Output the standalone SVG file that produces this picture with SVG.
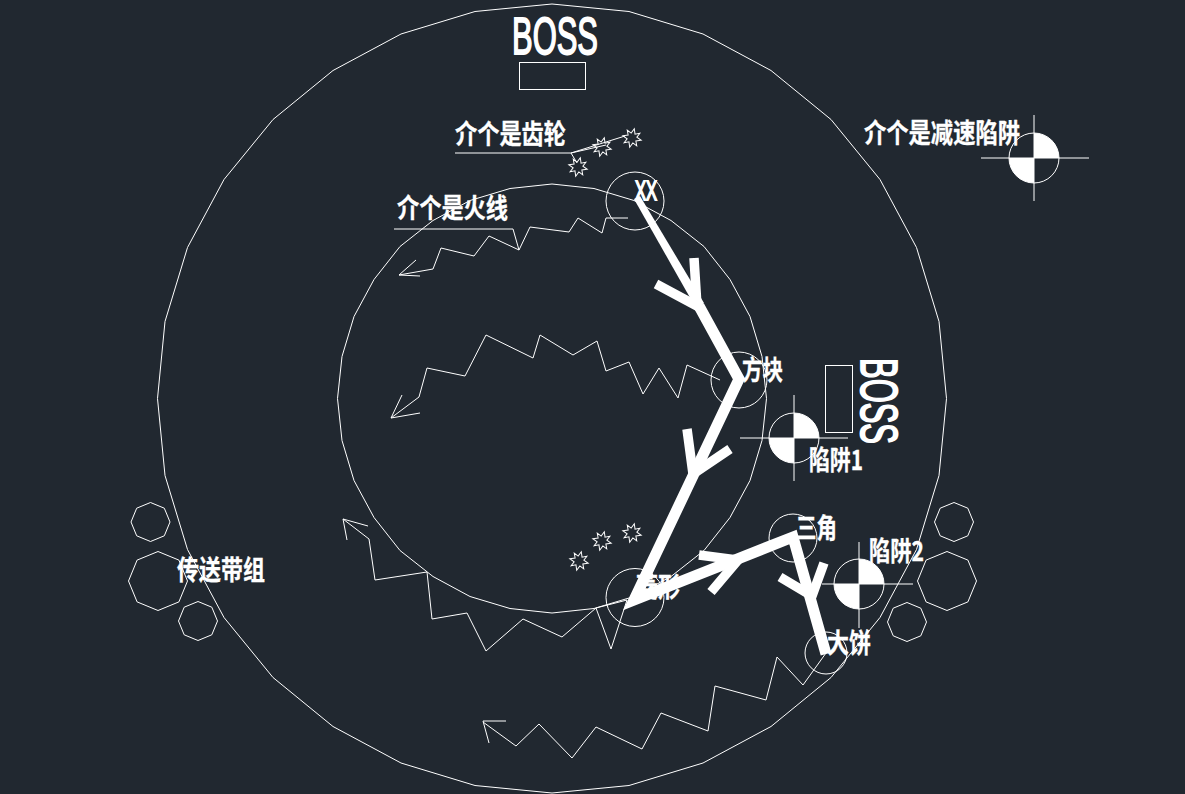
<svg xmlns="http://www.w3.org/2000/svg" xmlns:xlink="http://www.w3.org/1999/xlink" width="1185" height="794" viewBox="0 0 1185 794">
<style>
.t{fill:none;stroke:#fff;stroke-width:1}
.c{font-family:"Noto Sans CJK SC","Liberation Sans",sans-serif;font-size:27px;font-weight:700;fill:#fff;stroke:#fff;stroke-width:.3}
.b{font-family:"Liberation Sans",sans-serif;fill:#fff;stroke:#fff;stroke-width:1.8}
.w{fill:none;stroke:#fff;stroke-width:11;stroke-linejoin:miter;stroke-linecap:butt}
.a{fill:none;stroke:#fff;stroke-width:9.500;stroke-linejoin:miter;stroke-linecap:butt}
.q{fill:#fff;stroke:none}
</style>
<defs>
<polygon id="star" class="t" transform="rotate(14)" points="0,-9.500 2,-4.500 6.500,-6.500 4.500,-2 9.500,0 4.500,2 6.500,6.500 2,4.500 0,9.500 -2,4.500 -6.500,6.500 -4.500,2 -9.500,0 -4.500,-2 -6.500,-6.500 -2,-4.500"/>
<polygon id="octS" class="t" points="0,-19.500 13.800,-13.800 19.500,0 13.800,13.800 0,19.500 -13.800,13.800 -19.500,0 -13.800,-13.800"/>
<polygon id="octL" class="t" points="0,-29.500 20.900,-20.900 29.500,0 20.900,20.900 0,29.500 -20.900,20.900 -29.500,0 -20.900,-20.900"/>
<g id="trap"><circle r="25" class="t"/><path class="q" d="M0,0V-25A25,25 0 0 1 25,0Z"/><path class="q" d="M0,0V25A25,25 0 0 1 -25,0Z"/></g>
</defs>
<rect width="1185" height="794" fill="#212830"/>

<g id="outer-ring"><polygon class="t" points="552,4 629,11.500 703,34 771,70.500 831,119.500 880,179.500 916.500,247.500 939,321.500 946.500,398.500 939,475.500 916.500,549.500 880,617.500 831,677.500 771,726.500 703,763 629,785.500 552,793 475,785.500 401,763 333,726.500 273,677.500 224,617.500 187.500,549.500 165,475.500 157.500,398.500 165,321.500 187.500,247.500 224,179.500 273,119.500 333,70.500 401,34 475,11.500"/></g>
<g id="inner-ring"><polygon class="t" points="552,184 594,188.500 634,200.500 671,220.500 704,246.500 730,279.500 750,316.500 762,356.500 766.500,398.500 762,440.500 750,480.500 730,517.500 704,550.500 671,576.500 634,596.500 594,608.500 552,613 510,608.500 470,596.500 433,576.500 400,550.500 374,517.500 354,480.500 342,440.500 337.500,398.500 342,356.500 354,316.500 374,279.500 400,246.500 433,220.500 470,200.500 510,188.500"/></g>

<g id="boss-top"><text class="b" x="512" y="53.500" font-size="51" textLength="86" lengthAdjust="spacingAndGlyphs">BOSS</text><rect class="t" x="519.500" y="62.500" width="66" height="27"/></g>
<g id="boss-right"><text class="b" transform="translate(860.500,358) rotate(90)" font-size="51" textLength="86" lengthAdjust="spacingAndGlyphs">BOSS</text><rect class="t" x="825.500" y="365.500" width="27" height="67"/></g>

<g id="gears-label"><text class="c" x="455" y="144" textLength="111" lengthAdjust="spacingAndGlyphs">介个是齿轮</text><path class="t" d="M455,153H571L625,136M571,153L606,145M571,153L577,163"/></g>
<g id="gears-top"><use xlink:href="#star" href="#star" x="578" y="167"/><use xlink:href="#star" href="#star" x="602" y="147"/><use xlink:href="#star" href="#star" x="632" y="138"/></g>
<g id="gears-bottom"><use xlink:href="#star" href="#star" x="579" y="561"/><use xlink:href="#star" href="#star" x="602" y="541"/><use xlink:href="#star" href="#star" x="632" y="533"/></g>
<g id="fire-label"><text class="c" x="397" y="218" textLength="111" lengthAdjust="spacingAndGlyphs">介个是火线</text><path class="t" d="M394,229H513L519,250"/></g>

<g id="node-xx"><circle class="t" cx="635" cy="201" r="29"/><text class="b" x="635" y="200" font-size="27" textLength="22" lengthAdjust="spacingAndGlyphs" stroke-width="1">XX</text></g>
<g id="node-square"><circle class="t" cx="739" cy="380" r="28"/><text class="c" x="742" y="380" textLength="41" lengthAdjust="spacingAndGlyphs">方块</text></g>
<g id="node-diamond"><circle class="t" cx="635" cy="597.500" r="29"/><text class="c" x="636" y="597" textLength="44" lengthAdjust="spacingAndGlyphs">菱形</text></g>
<g id="node-triangle"><circle class="t" cx="793" cy="538" r="24"/><text class="c" x="796" y="538" textLength="41" lengthAdjust="spacingAndGlyphs">三角</text></g>
<g id="node-pie"><circle class="t" cx="826" cy="653" r="21"/><text class="c" x="827" y="653" textLength="44" lengthAdjust="spacingAndGlyphs">大饼</text></g>

<g id="trap-1"><use xlink:href="#trap" href="#trap" x="794" y="438"/><path class="t" d="M740,438H848M794,395V481"/><text class="c" x="809" y="470" textLength="54" lengthAdjust="spacingAndGlyphs">陷阱1</text></g>
<g id="trap-2"><use xlink:href="#trap" href="#trap" x="859" y="584"/><path class="t" d="M822,584H913M859,542V628"/><text class="c" x="869" y="561" textLength="55" lengthAdjust="spacingAndGlyphs">陷阱2</text></g>
<g id="trap-slow"><use xlink:href="#trap" href="#trap" x="1034" y="158"/><path class="t" d="M981,158H1089M1034,115V201"/><text class="c" x="864" y="143" textLength="156" lengthAdjust="spacingAndGlyphs">介个是减速陷阱</text></g>

<g id="conveyor-left"><use xlink:href="#octS" href="#octS" x="150.500" y="522"/><use xlink:href="#octL" href="#octL" x="158" y="581"/><use xlink:href="#octS" href="#octS" x="198" y="621"/><text class="c" x="177" y="580" textLength="88" lengthAdjust="spacingAndGlyphs">传送带组</text></g>
<g id="conveyor-right"><use xlink:href="#octS" href="#octS" x="954" y="522"/><use xlink:href="#octL" href="#octL" x="947" y="581"/><use xlink:href="#octS" href="#octS" x="907" y="622"/></g>

<g id="connectors">
<polyline class="t" points="628,218 606,218 602,233 578,218 569,232 530,227 519,250 489,236 474,256 441,248 433,269 399,275"/>
<path class="t" d="M416,260L399,275L420,276"/>
<polyline class="t" points="720,380 687,365 678,398 659,368 643,394 629,362 606,371 597,341 573,355 540,335 533,358 486,335 465,376 427,368 419,397 391,418"/>
<path class="t" d="M402,395L391,418L420,413"/>
<polyline class="t" points="596,608 627,600 611,649 596,608 562,637 523,619 486,651 467,613 432,619 427,572 375,580 369,539 343,519"/>
<path class="t" d="M368,526L343,519L347,540"/>
<polyline class="t" points="826,653 803,685 777,657 766,700 715,686 708,731 661,713 642,749 596,727 572,758 539,724 516,746 483,722"/>
<path class="t" d="M506,721L483,721L489,743"/>
<polygon class="q" points="634,199 640,196 704,303 697,310"/>
<path class="w" d="M699,306L739,379L634,600L793,537L826,654"/>
<path class="a" d="M694,258L697,306L656,284"/>
<path class="a" d="M687,429L693,474L730,449"/>
<path class="a" d="M699,555L738,560L711,592"/>
<path class="a" d="M780,577L812,596L824,563"/>
</g>
</svg>
